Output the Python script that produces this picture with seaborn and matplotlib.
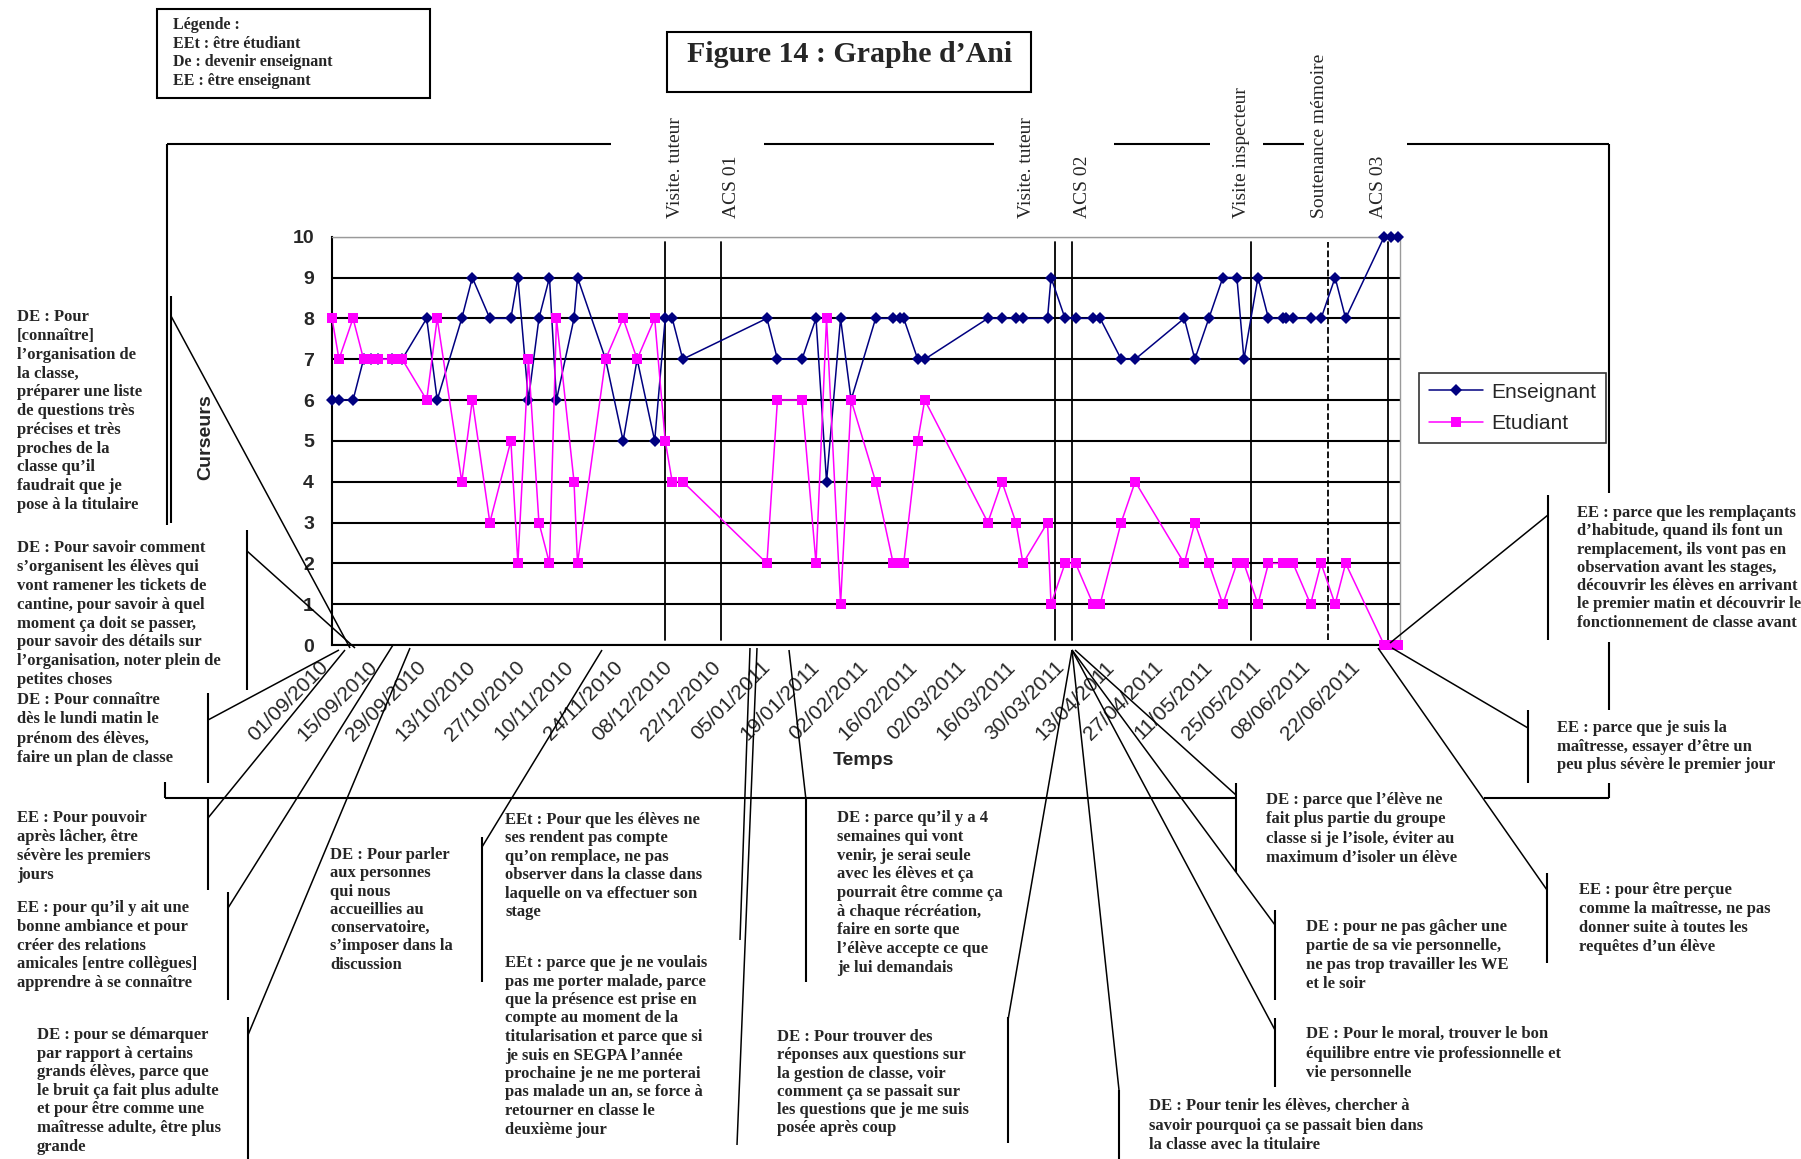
import numpy as np
import pandas as pd
import seaborn as sns
import matplotlib.pyplot as plt
from matplotlib import transforms as mtransforms

W, H = 1801, 1159

# data
dates = ['01/09/2010', '03/09/2010', '07/09/2010', '10/09/2010', '12/09/2010', '14/09/2010',
         '18/09/2010', '21/09/2010', '28/09/2010', '01/10/2010', '08/10/2010', '11/10/2010',
         '16/10/2010', '22/10/2010', '24/10/2010', '27/10/2010', '30/10/2010', '02/11/2010',
         '04/11/2010', '09/11/2010', '10/11/2010', '18/11/2010', '23/11/2010', '27/11/2010',
         '02/12/2010', '05/12/2010', '07/12/2010', '10/12/2010', '03/01/2011', '06/01/2011',
         '13/01/2011', '17/01/2011', '20/01/2011', '24/01/2011', '27/01/2011', '03/02/2011',
         '08/02/2011', '10/02/2011', '11/02/2011', '15/02/2011', '17/02/2011', '07/03/2011',
         '11/03/2011', '15/03/2011', '17/03/2011', '24/03/2011', '25/03/2011', '29/03/2011',
         '01/04/2011', '06/04/2011', '08/04/2011', '14/04/2011', '18/04/2011', '02/05/2011',
         '05/05/2011', '09/05/2011', '13/05/2011', '17/05/2011', '19/05/2011', '23/05/2011',
         '26/05/2011', '30/05/2011', '31/05/2011', '02/06/2011', '07/06/2011', '10/06/2011',
         '14/06/2011', '17/06/2011', '28/06/2011', '30/06/2011', '02/07/2011']
enseignant = [6, 6, 6, 7, 7, 7, 7, 7, 8, 6, 8, 9, 8, 8, 9, 6, 8, 9, 6, 8, 9, 7, 5, 7,
              5, 8, 8, 7, 8, 7, 7, 8, 4, 8, 6, 8, 8, 8, 8, 7, 7, 8, 8, 8, 8, 8, 9, 8,
              8, 8, 8, 7, 7, 8, 7, 8, 9, 9, 7, 9, 8, 8, 8, 8, 8, 8, 9, 8, 10, 10, 10]
etudiant = [8, 7, 8, 7, 7, 7, 7, 7, 6, 8, 4, 6, 3, 5, 2, 7, 3, 2, 8, 4, 2, 7, 8, 7,
            8, 5, 4, 4, 2, 6, 6, 2, 8, 1, 6, 4, 2, 2, 2, 5, 6, 3, 4, 3, 2, 3, 1, 2,
            2, 1, 1, 3, 4, 2, 3, 2, 1, 2, 2, 1, 2, 2, 2, 2, 1, 2, 1, 2, 0, 0, 0]

tick_labels = ['01/09/2010', '15/09/2010', '29/09/2010', '13/10/2010', '27/10/2010',
               '10/11/2010', '24/11/2010', '08/12/2010', '22/12/2010', '05/01/2011',
               '19/01/2011', '02/02/2011', '16/02/2011', '02/03/2011', '16/03/2011',
               '30/03/2011', '13/04/2011', '27/04/2011', '11/05/2011', '25/05/2011',
               '08/06/2011', '22/06/2011']

event_names = ['Visite. tuteur', 'ACS 01', 'Visite. tuteur', 'ACS 02',
               'Visite inspecteur', 'Soutenance mémoire', 'ACS 03']
event_dates = ['05/12/2010', '21/12/2010', '26/03/2011', '31/03/2011',
               '21/05/2011', '12/06/2011', '29/06/2011']
event_dashed = [False, False, False, False, False, True, False]
event_dx = [10, 10, -28, 10, -9, -9, -9]

df = pd.DataFrame({'Temps': pd.to_datetime(dates, dayfirst=True),
                   'Enseignant': enseignant, 'Etudiant': etudiant})

sns.set_style('white')
plt.rcParams['font.family'] = ['Liberation Sans', 'DejaVu Sans']
SERIF = ['Liberation Serif', 'DejaVu Serif']

fig = plt.figure(figsize=(W / 100, H / 100), dpi=100)
ax = fig.add_axes([332 / W, 1 - 645 / H, (1400 - 332) / W, (645 - 236.7) / H])

ax.set_ylim(0, 10)
ax.set_xlim(pd.Timestamp('2010-09-01'), pd.Timestamp('2011-07-02 12:00'))
ax.set_yticks(range(0, 11))
ax.yaxis.grid(True, color='black', lw=1.5)
ax.set_axisbelow(True)

for d, dash in zip(pd.to_datetime(event_dates, dayfirst=True), event_dashed):
    ax.axvline(d, ymin=0.012, ymax=0.988, color='black', lw=1.3, ls='--' if dash else '-', zorder=2)

sns.lineplot(data=df, x='Temps', y='Enseignant', color='#000080', marker='D', markersize=6,
             markeredgewidth=0, lw=1.1, ax=ax, clip_on=False, zorder=3, label='Enseignant')
sns.lineplot(data=df, x='Temps', y='Etudiant', color='#FF00FF', marker='s', markersize=7.5,
             markeredgewidth=0, lw=1.1, ax=ax, clip_on=False, zorder=4, label='Etudiant')

ax.set_xticks(pd.to_datetime(tick_labels, dayfirst=True))
ax.set_xticklabels(tick_labels, rotation=45, ha='right', fontsize=15)
shift = mtransforms.ScaledTranslation(-9 / 100, -7 / 100, fig.dpi_scale_trans)
for t in ax.get_xticklabels():
    t.set_transform(t.get_transform() + shift)
for t in ax.get_yticklabels():
    t.set_fontweight('bold')
    t.set_fontsize(14)
ax.tick_params(axis='both', direction='out', length=5, width=1.2, color='black', pad=4)
ax.tick_params(axis='y', pad=8)

for s in ['left', 'bottom']:
    ax.spines[s].set_color('black')
    ax.spines[s].set_linewidth(1.5)
for s in ['top', 'right']:
    ax.spines[s].set_color('#9a9a9a')
    ax.spines[s].set_linewidth(1)

ax.set_ylabel('Curseurs', fontsize=14, fontweight='bold')
ax.yaxis.set_label_coords(-0.11, 0.51)
ax.set_xlabel('Temps', fontsize=14, fontweight='bold')
ax.xaxis.set_label_coords(0.498, -0.262)

handles, labels = ax.get_legend_handles_labels()
leg = ax.legend(handles, labels, loc='center left', bbox_to_anchor=(1409 / W, 1 - 408 / H),
                bbox_transform=fig.transFigure, frameon=True, fancybox=False, edgecolor='black',
                fontsize=15, handlelength=2.6, borderpad=0.45, labelspacing=0.6, handletextpad=0.4)
leg.get_frame().set_linewidth(1.2)

# event labels above the plot
lab_y = (645 - 218) / (645 - 236.7)
for name, d, dx in zip(event_names, pd.to_datetime(event_dates, dayfirst=True), event_dx):
    tr = mtransforms.offset_copy(ax.get_xaxis_transform(), fig=fig, x=dx, y=0, units='dots')
    ax.text(d, lab_y, name, transform=tr, rotation=90, ha='center', va='bottom',
            fontsize=14, family=SERIF, clip_on=False)

# overlay in pixel coordinates for the drawing around the chart
ov = fig.add_axes([0, 0, 1, 1], zorder=5)
ov.set_xlim(0, W)
ov.set_ylim(H, 0)
ov.axis('off')


def seg(x1, y1, x2, y2, lw=1.1, ls='-'):
    ov.plot([x1, x2], [y1, y2], color='black', lw=lw, ls=ls, solid_capstyle='butt')


def para(x, y, lines, step=18.8, size=12):
    for i, s in enumerate(lines):
        ov.text(x, y + i * step, s, fontsize=size, fontweight='bold', family=SERIF,
                va='center', ha='left')


# boxes
ov.add_patch(plt.Rectangle((157, 9), 273, 89, fill=False, lw=1.5, ec='black'))
ov.add_patch(plt.Rectangle((667, 32), 364, 60, fill=False, lw=1.5, ec='black'))
ov.text(850, 55, 'Figure 14 : Graphe d\u2019Ani', fontsize=21.5, fontweight='bold', family=SERIF,
        ha='center', va='center')
for i, s in enumerate(['Légende :', 'EEt : être étudiant', 'De : devenir enseignant',
                       'EE : être enseignant']):
    ov.text(173, 25 + i * 18.7, s, fontsize=11.5, fontweight='bold', family=SERIF, va='center')

# frame
for a, b in [(167, 611), (764, 994), (1114, 1210), (1263, 1304), (1407, 1609)]:
    seg(a, 143.6, b, 143.6, lw=1.5)
seg(167, 143.6, 167, 525, lw=1.5)
seg(165, 782, 165, 798, lw=1.5)
seg(165, 798, 1236, 798, lw=1.5)
seg(1484, 798, 1609, 798, lw=1.5)
for a, b in [(143.6, 493), (642, 710), (783, 798)]:
    seg(1609, a, 1609, b, lw=1.5)

# bars next to the comments
bars = [(171, 296, 523), (247, 530, 690), (208, 693, 783), (208, 798, 890), (228, 892, 1000),
        (248, 1017, 1159), (482, 837, 982), (806, 798, 982), (1008, 1017, 1143),
        (1119, 1090, 1159), (1236, 783, 872), (1275, 910, 1000), (1275, 1018, 1087),
        (1548, 495, 640), (1528, 710, 783), (1547, 873, 963)]
for x, a, b in bars:
    seg(x, a, x, b, lw=1.5)

# leaders
leaders = [(171, 316, 350, 648), (247, 551, 355, 648), (208, 720, 339, 650),
           (208, 818, 345, 650), (228, 908, 393, 645), (248, 1035, 410, 648),
           (482, 847, 602, 650), (750, 648, 740, 940), (757, 648, 737, 1145),
           (789, 650, 806, 800), (1072, 650, 1008, 1020), (1072, 650, 1119, 1090),
           (1075, 650, 1236, 795), (1072, 650, 1275, 925), (1072, 650, 1275, 1030),
           (1548, 515, 1390, 643), (1528, 728, 1392, 648), (1547, 890, 1378, 648)]
for x1, y1, x2, y2 in leaders:
    seg(x1, y1, x2, y2)

# comments
para(17, 317, ['DE : Pour', '[connaître]', 'l\u2019organisation de', 'la classe,',
               'préparer une liste', 'de questions très', 'précises et très',
               'proches de la', 'classe qu\u2019il', 'faudrait que je', 'pose à la titulaire'])
para(17, 548, ['DE : Pour savoir comment', 's\u2019organisent les élèves qui',
               'vont ramener les tickets de', 'cantine, pour savoir à quel',
               'moment ça doit se passer,', 'pour savoir des détails sur',
               'l\u2019organisation, noter plein de', 'petites choses'], step=18.9)
para(17, 700, ['DE : Pour connaître', 'dès le lundi matin le', 'prénom des élèves,',
               'faire un plan de classe'], step=19.3)
para(17, 818, ['EE : Pour pouvoir', 'après lâcher, être', 'sévère les premiers', 'jours'], step=19)
para(17, 908, ['EE : pour qu\u2019il y ait une', 'bonne ambiance et pour', 'créer des relations',
               'amicales [entre collègues]', 'apprendre à se connaître'])
para(37, 1035, ['DE : pour se démarquer', 'par rapport à certains', 'grands élèves, parce que',
                'le bruit ça fait plus adulte', 'et pour être comme une',
                'maîtresse adulte, être plus', 'grande'], step=18.6)
para(330, 855, ['DE : Pour parler', 'aux personnes', 'qui nous', 'accueillies au',
                'conservatoire,', 's\u2019imposer dans la', 'discussion'], step=18.3)
para(505, 820, ['EEt : Pour que les élèves ne', 'ses rendent pas compte',
                'qu\u2019on remplace, ne pas', 'observer dans la classe dans',
                'laquelle on va effectuer son', 'stage'], step=18.4)
para(505, 963, ['EEt : parce que je ne voulais', 'pas me porter malade, parce',
                'que la présence est prise en', 'compte au moment de la',
                'titularisation et parce que si', 'je suis en SEGPA l\u2019année',
                'prochaine je ne me porterai', 'pas malade un an, se force à',
                'retourner en classe le', 'deuxième jour'], step=18.5)
para(837, 818, ['DE : parce qu\u2019il y a 4', 'semaines qui vont', 'venir, je serai seule',
                'avec les élèves et ça', 'pourrait être comme ça', 'à chaque récréation,',
                'faire en sorte que', 'l\u2019élève accepte ce que', 'je lui demandais'], step=18.75)
para(777, 1037, ['DE : Pour trouver des', 'réponses aux questions sur',
                 'la gestion de classe, voir', 'comment ça se passait sur',
                 'les questions que je me suis', 'posée après coup'], step=18.3)
para(1149, 1106, ['DE : Pour tenir les élèves, chercher à',
                  'savoir pourquoi ça se passait bien dans', 'la classe avec la titulaire'],
     step=19.5)
para(1266, 800, ['DE : parce que l\u2019élève ne', 'fait plus partie du groupe',
                 'classe si je l\u2019isole, éviter au', 'maximum d\u2019isoler un élève'], step=19.3)
para(1306, 927, ['DE : pour ne pas gâcher une', 'partie de sa vie personnelle,',
                 'ne pas trop travailler les WE', 'et le soir'], step=19)
para(1306, 1034, ['DE : Pour le moral, trouver le bon',
                  'équilibre entre vie professionnelle et', 'vie personnelle'], step=19.5)
para(1577, 513, ['EE : parce que les remplaçants', 'd\u2019habitude, quand ils font un',
                 'remplacement, ils vont pas en', 'observation avant les stages,',
                 'découvrir les élèves en arrivant', 'le premier matin et découvrir le',
                 'fonctionnement de classe avant'], step=18.3)
para(1557, 728, ['EE : parce que je suis la', 'maîtresse, essayer d\u2019être un',
                 'peu plus sévère le premier jour'], step=18.7)
para(1579, 890, ['EE : pour être perçue', 'comme la maîtresse, ne pas',
                 'donner suite à toutes les', 'requêtes d\u2019un élève'], step=19)

fig.savefig('out.png', dpi=100)
